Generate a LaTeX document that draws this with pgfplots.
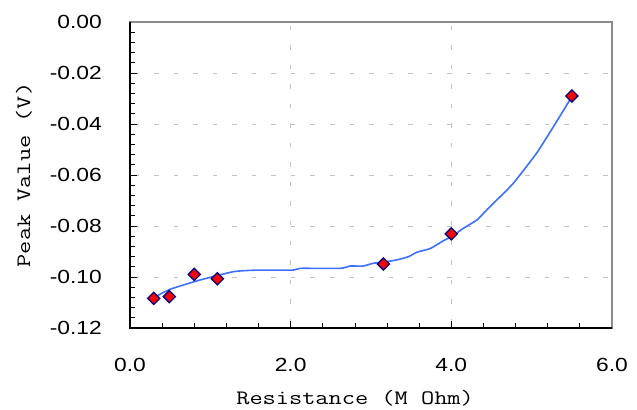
\documentclass[border=0pt]{standalone}
\usepackage{fontspec}
\setmainfont{Liberation Sans}[FakeStretch=1.2]
\newfontfamily\cour{Latin Modern Mono}[FakeStretch=1.25]
\usepackage{pgfplots}
\pgfplotsset{compat=1.18}
\definecolor{lineblue}{RGB}{62,112,255}
\definecolor{mkred}{RGB}{250,0,0}
\definecolor{mknavy}{RGB}{10,0,120}
\definecolor{gridgray}{RGB}{195,195,195}
\definecolor{spinegray}{RGB}{140,140,140}
\begin{document}
\begin{tikzpicture}
\useasboundingbox (-130bp,-82bp) rectangle (507bp,328bp);
\begin{axis}[
  at={(0,0)}, anchor=south west,
  scale only axis, width=482bp, height=306bp,
  xmin=0, xmax=6, ymin=-0.12, ymax=0,
  xtick={0,2,4,6}, ytick={-0.12,-0.1,-0.08,-0.06,-0.04,-0.02,0},
  minor x tick num=4, minor y tick num=4,
  xtick pos=bottom, ytick pos=left, tick align=inside,
  major tick length=7bp, minor tick length=5bp,
  every tick/.style={black, line width=0.8bp},
  axis line style={spinegray, line width=1.5bp},
  grid=major,
  major grid style={gridgray, line width=0.8bp, dash pattern=on 4.5bp off 15bp, dash phase=-5bp},
  /pgf/number format/assume math mode=true,
  xticklabel style={font=\fontsize{19bp}{22bp}\selectfont, anchor=center, inner sep=0pt, yshift=-36.5bp,
    /pgf/number format/.cd, fixed, fixed zerofill, precision=1},
  yticklabel style={font=\fontsize{19bp}{22bp}\selectfont, anchor=east, inner sep=0pt, xshift=-28bp,
    /pgf/number format/.cd, fixed, fixed zerofill, precision=2},
  scaled y ticks=false,
  xlabel={Resistance (M Ohm)},
  ylabel={Peak Value (V)},
  xlabel style={font=\cour\fontsize{20.5bp}{24bp}\selectfont, at={(axis description cs:0.467,0)}, anchor=base, yshift=-76bp, inner sep=0pt},
  ylabel style={font=\cour\fontsize{20.5bp}{24bp}\selectfont, at={(axis description cs:-0.22,0.5)}, anchor=center, inner sep=0pt},
  clip=false,
]
\addplot[only marks, mark=square*, mark size=4.3bp,
  mark options={rotate=45, fill=mkred, draw=mknavy, line width=1.3bp}] coordinates {
(0.295,-0.1084) (0.49,-0.1077) (0.80,-0.0990) (1.087,-0.1007)
(3.155,-0.0949) (4.00,-0.0831) (5.50,-0.0290)
};
\addplot[lineblue, line width=1.6bp, smooth, tension=0.3] coordinates {
(0.30,-0.1080) (0.50,-0.1048) (0.87,-0.1012) (1.29,-0.0979) (1.58,-0.0973)
(2.03,-0.0973) (2.12,-0.0966) (2.62,-0.0966) (2.74,-0.0957) (2.90,-0.0957)
(3.03,-0.0946) (3.15,-0.0942) (3.32,-0.0933) (3.47,-0.0920) (3.57,-0.0903)
(3.74,-0.0888) (3.90,-0.0858) (4.00,-0.0842) (4.15,-0.0809) (4.32,-0.0776)
(4.44,-0.0737) (4.56,-0.0700) (4.77,-0.0633) (5.06,-0.0515) (5.27,-0.0411)
(5.50,-0.0293)
};
\draw[black, line width=1.5bp] (rel axis cs:0,1) -- (rel axis cs:0,0) -- (rel axis cs:1,0);
\end{axis}
\end{tikzpicture}
\end{document}
